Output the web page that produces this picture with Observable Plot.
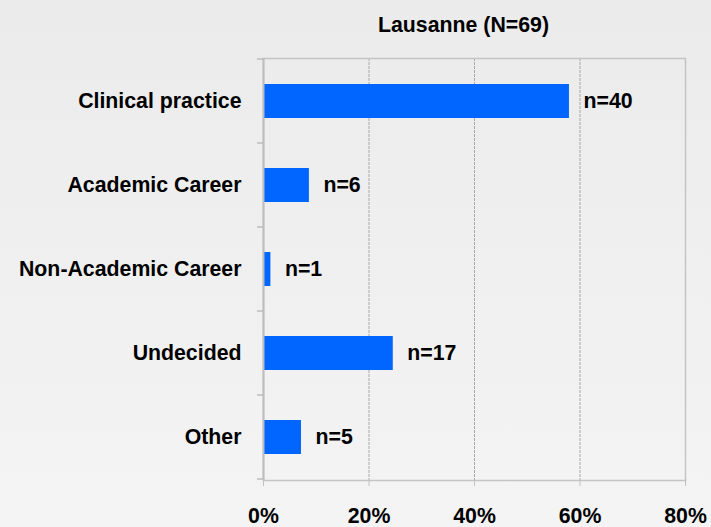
<!DOCTYPE html>
<html><head><meta charset="utf-8">
<script src="https://cdn.jsdelivr.net/npm/d3@7"></script>
<script src="https://cdn.jsdelivr.net/npm/@observablehq/plot@0.6"></script>
<style>
html,body{margin:0;padding:0;}
body{width:711px;height:527px;background:linear-gradient(#ebebeb,#f4f4f4);overflow:hidden}
</style></head><body><div id="chart"></div>
<script>
const categories = ["Clinical practice", "Academic Career", "Non-Academic Career", "Undecided", "Other"];
const percents = [58, 8.7, 1.4, 24.6, 7.2];
const counts = [40, 6, 1, 17, 5];
const xTicks = [0, 20, 40, 60, 80];
const title = "Lausanne (N=69)";

const data = categories.map((c, i) => ({category: c, pct: percents[i], n: counts[i]}));
const font = '"Liberation Sans", Arial, sans-serif';

const yBoundaryTicks = (index, scales, values, dimensions) => {
  const y = scales.y;
  const step = y(categories[1]) - y(categories[0]);
  const bw = y.bandwidth ? y.bandwidth() : 0;
  const gap = (step - bw) / 2;
  const ys = categories.map(c => y(c) - gap);
  ys.push(y(categories[categories.length - 1]) + bw + gap);
  const g = d3.create("svg:g");
  g.selectAll("line").data(ys).join("line")
    .attr("x1", dimensions.marginLeft - 6).attr("x2", dimensions.marginLeft)
    .attr("y1", d => d).attr("y2", d => d)
    .attr("stroke", "#bdbdbd").attr("stroke-width", 1.5);
  return g.node();
};

const chart = Plot.plot({
  width: 711, height: 527,
  marginLeft: 263, marginRight: 26, marginTop: 58, marginBottom: 47,
  style: {background: "transparent", fontFamily: font, fontSize: "21.3px", fontWeight: "bold", color: "#000"},
  x: {domain: [0, 80], ticks: xTicks},
  y: {domain: categories, paddingInner: 0.6, paddingOuter: 0.3},
  marks: [
    Plot.ruleX(xTicks.slice(1, -1), {stroke: "#a8a8a8", strokeDasharray: "3,1", strokeWidth: 1}),
    Plot.frame({stroke: "#c4c4c4", strokeWidth: 1.5}),
    Plot.barX(data, {x: "pct", y: "category", fill: "#0066ff"}),
    Plot.text(data, {x: "pct", y: "category", text: d => "n=" + d.n, textAnchor: "start", dx: 14, fill: "#000"}),
    Plot.axisX({ticks: xTicks, tickFormat: d => d + "%", tickSize: 6, tickPadding: 21, stroke: "#c0c0c0", fill: "#000", label: null}),
    Plot.axisY({tickSize: 0, tickPadding: 22, fill: "#000", label: null}),
    yBoundaryTicks,
    Plot.ruleX([0], {stroke: "#bdbdbd", strokeWidth: 2}),
    Plot.text([title], {frameAnchor: "top", dx: -11, dy: -42, fill: "#000"})
  ]
});
document.getElementById("chart").appendChild(chart);
</script></body></html>
